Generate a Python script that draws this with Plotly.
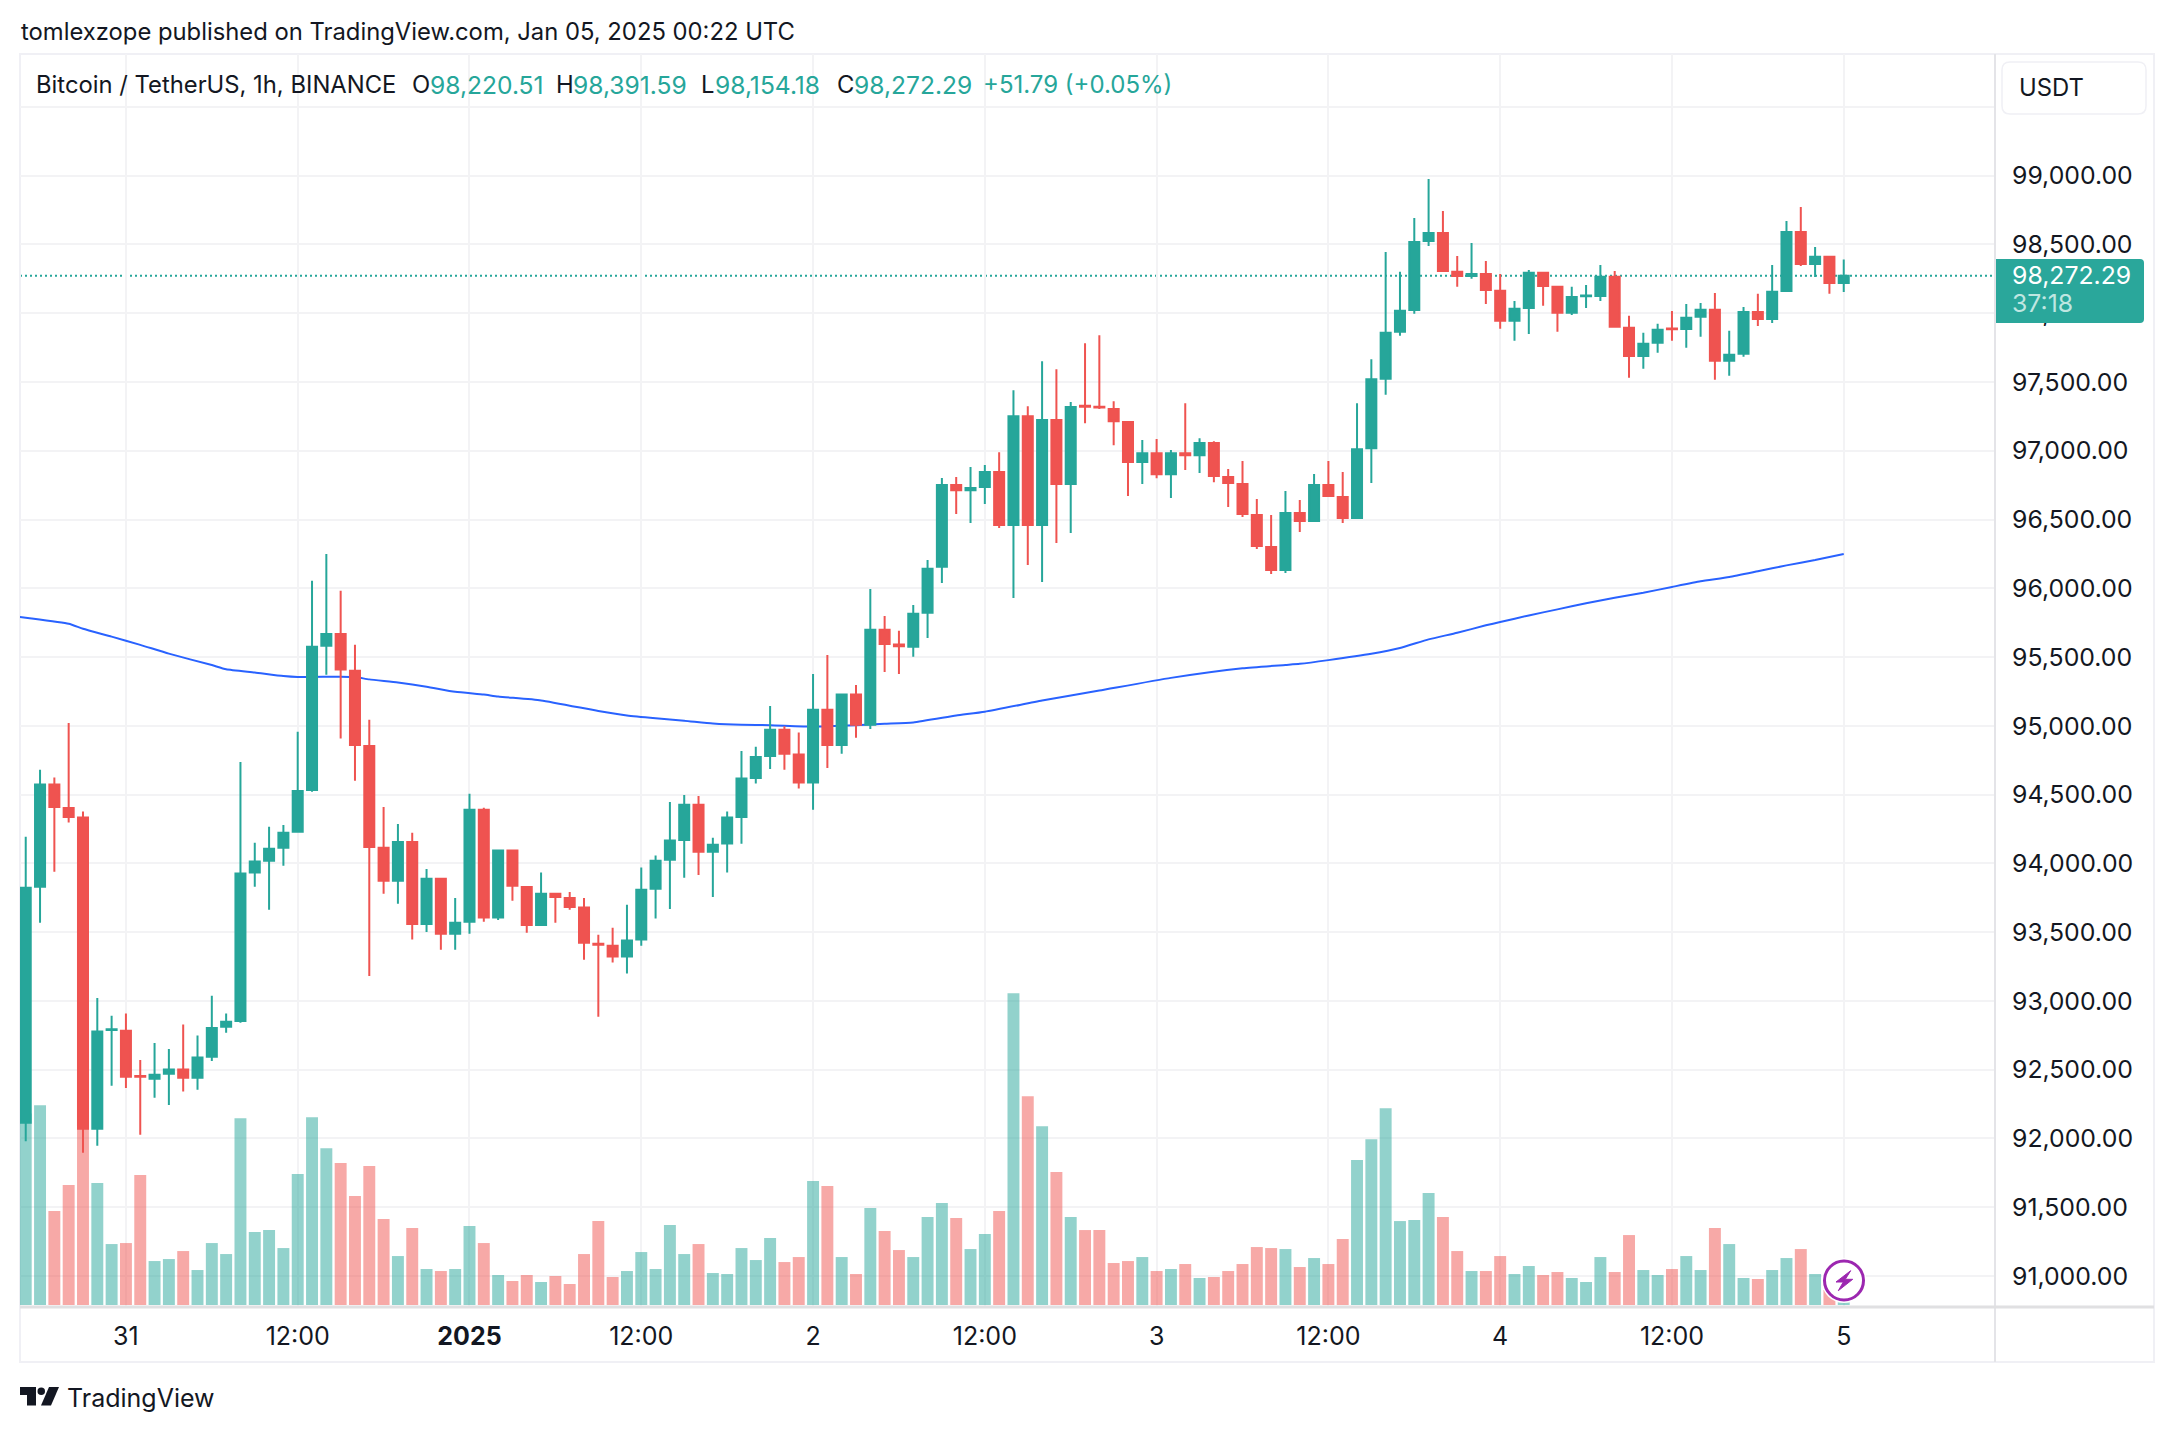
import pandas as pd
import plotly.graph_objects as go

# hourly candles
times = pd.date_range("2024-12-30 17:00", periods=128, freq="h")

opens = [92114, 93830, 94574, 94403, 94333, 92071, 92788, 92784, 92454, 92435, 92471, 92501, 92441, 92595, 92812, 92855,
         93933, 94020, 94114, 94230, 94534, 95582, 95668, 95401, 94854, 94113, 93873, 94156, 93560, 93889, 93489, 93576,
         94390, 93606, 94093, 93829, 93553, 93779, 93749, 93679, 93415, 93402, 93323, 93446, 93816, 94027, 94170, 94427,
         94084, 94144, 94337, 94621, 94781, 94971, 94791, 94588, 95118, 94861, 95228, 95008, 95699, 95592, 95576, 95823,
         96157, 96751, 96714, 96736, 96845, 96460, 97252, 96460, 97223, 96758, 97328, 97321, 97303, 97209, 96918, 96983,
         96830, 96983, 96968, 97056, 96809, 96758, 96533, 96301, 96133, 96548, 96489, 96751, 96664, 96511, 97019, 97523,
         97865, 98024, 98525, 98584, 98301, 98271, 98286, 98163, 97945, 98039, 98294, 98192, 98003, 98123, 98126, 98265,
         97894, 97690, 97785, 97890, 97886, 97974, 98025, 97654, 97705, 98010, 97959, 98162, 98591, 98358, 98410, 98220.51]
highs = [94193, 94681, 94624, 95021, 94377, 93022, 92892, 92908, 92571, 92695, 92651, 92828, 92748, 93038, 92908, 94738,
         94150, 94267, 94280, 94958, 96056, 96250, 95983, 95589, 95045, 94410, 94287, 94223, 93960, 93896, 93749, 94507,
         94404, 94100, 94100, 93836, 93933, 93786, 93793, 93749, 93482, 93532, 93699, 93970, 94057, 94447, 94497, 94490,
         94187, 94377, 94818, 94848, 95145, 94998, 94951, 95378, 95515, 95235, 95298, 95996, 95799, 95692, 95879, 96206,
         96802, 96809, 96882, 96896, 96990, 97441, 97324, 97651, 97593, 97354, 97782, 97840, 97361, 97216, 97078, 97085,
         97005, 97346, 97092, 97070, 96867, 96925, 96649, 96533, 96707, 96642, 96831, 96925, 96845, 97346, 97666, 98446,
         98301, 98693, 98976, 98743, 98417, 98511, 98380, 98286, 98090, 98315, 98301, 98199, 98192, 98206, 98351, 98308,
         97981, 97858, 97923, 98017, 98068, 98075, 98148, 97872, 98046, 98141, 98351, 98671, 98772, 98482, 98417, 98391.59]
lows = [91980, 93569, 93940, 94297, 91897, 91947, 92384, 92367, 92027, 92297, 92244, 92341, 92354, 92564, 92768, 92842,
        93830, 93663, 93983, 94223, 94521, 95372, 94908, 94601, 93182, 93780, 93706, 93446, 93502, 93372, 93372, 93489,
        93576, 93589, 93729, 93496, 93546, 93569, 93663, 93299, 92885, 93279, 93199, 93402, 93599, 93669, 93896, 93916,
        93756, 93933, 94143, 94581, 94687, 94681, 94544, 94390, 94694, 94798, 94914, 94978, 95392, 95378, 95502, 95639,
        96039, 96540, 96475, 96613, 96438, 95930, 96170, 96046, 96329, 96402, 97201, 97303, 97041, 96671, 96758, 96801,
        96656, 96860, 96838, 96772, 96591, 96518, 96286, 96104, 96112, 96409, 96482, 96664, 96475, 96504, 96765, 97408,
        97836, 97996, 98489, 98301, 98192, 98250, 98068, 97887, 97800, 97850, 98054, 97865, 97988, 98039, 98090, 97894,
        97531, 97596, 97712, 97800, 97749, 97829, 97516, 97546, 97683, 97908, 97930, 98155, 98344, 98264, 98141, 98154.18]
closes = [93823, 94574, 94411, 94337, 92071, 92778, 92794, 92448, 92448, 92464, 92501, 92441, 92588, 92804, 92848, 93926,
          94013, 94106, 94223, 94527, 95575, 95668, 95409, 94861, 94120, 93873, 94156, 93560, 93889, 93489, 93569, 94390,
          93606, 94093, 93837, 93553, 93779, 93756, 93683, 93423, 93409, 93323, 93439, 93809, 94020, 94166, 94427, 94084,
          94136, 94333, 94617, 94774, 94971, 94798, 94588, 95118, 94861, 95228, 95008, 95699, 95596, 95578, 95815, 96143,
          96751, 96714, 96729, 96845, 96460, 97252, 96460, 97223, 96758, 97318, 97321, 97314, 97215, 96918, 96983, 96830,
          96983, 96968, 97056, 96816, 96765, 96540, 96307, 96133, 96548, 96489, 96751, 96671, 96511, 97012, 97521, 97858,
          98018, 98519, 98584, 98308, 98271, 98286, 98170, 97945, 98032, 98294, 98199, 98003, 98119, 98130, 98265, 97901,
          97690, 97778, 97880, 97883, 97967, 98025, 97654, 97698, 98010, 97959, 98156, 98591, 98358, 98410, 98220, 98272.29]

# volume, no scale on the chart so these are just bar heights
volumes = [575, 600, 282, 360, 708, 366, 183, 186, 390, 132, 138, 162, 105, 186, 153, 561,
           219, 225, 171, 393, 564, 471, 426, 327, 417, 258, 147, 231, 108, 102, 108, 237,
           186, 90, 72, 90, 69, 87, 63, 153, 252, 84, 102, 159, 108, 240, 153, 183,
           96, 93, 171, 135, 201, 129, 144, 372, 357, 144, 93, 291, 222, 165, 144, 264,
           306, 261, 168, 213, 282, 936, 627, 537, 399, 264, 225, 225, 126, 132, 144, 102,
           108, 123, 81, 84, 102, 123, 174, 171, 168, 114, 141, 123, 198, 435, 498, 591,
           252, 255, 336, 264, 162, 102, 102, 147, 93, 117, 90, 99, 81, 69, 144, 99,
           210, 105, 90, 108, 147, 105, 231, 183, 81, 78, 105, 141, 168, 93, 45, 8]

# moving average, read at these candle numbers (-1 is the hour before the first candle, off the left edge)
ma_index = [-1, 0, 3, 4, 6, 8, 10, 13, 14, 16, 18, 19, 22, 23, 24, 26, 28, 30, 32, 33, 36, 40, 42, 44, 46,
            48, 50, 52, 55, 58, 60, 62, 65, 67, 71, 75, 80, 85, 88, 89, 91, 94, 96, 98, 100, 102, 103, 105,
            107, 109, 111, 113, 115, 117, 119, 121, 123, 125, 127]
ma_values = [95800, 95786, 95742, 95706, 95649, 95589, 95525, 95442, 95412, 95388, 95362, 95355, 95358, 95355, 95338,
             95315, 95285, 95248, 95228, 95213, 95185, 95108, 95075, 95055, 95038, 95018, 95008, 95005, 94995,
             95005, 95015, 95025, 95075, 95103, 95184, 95257, 95349, 95419, 95443, 95451, 95478, 95524, 95566,
             95629, 95677, 95731, 95755, 95803, 95847, 95891, 95932, 95968, 96010, 96051, 96082, 96124, 96167,
             96206, 96250]

price_ticks = [91000, 91500, 92000, 92500, 93000, 93500, 94000, 94500, 95000, 95500, 96000, 96500, 97000,
               97500, 98000, 98500, 99000, 99500]
time_ticks = ["2024-12-31 00:00", "2024-12-31 12:00", "2025-01-01 00:00", "2025-01-01 12:00", "2025-01-02 00:00",
              "2025-01-02 12:00", "2025-01-03 00:00", "2025-01-03 12:00", "2025-01-04 00:00", "2025-01-04 12:00",
              "2025-01-05 00:00"]
time_labels = ["31", "12:00", "<b>2025</b>", "12:00", "2", "12:00", "3", "12:00", "4", "12:00", "5"]
price_change = 51.79
price_change_pct = 0.05

W, H = 2174, 1432
GREEN = "#26a69a"
RED = "#ef5350"
INK = "#131722"
GRID = "#f3f3f5"
FONT = "Inter"
PRICE_RANGE = [90782, 99885]


# pixel helpers for the furniture around the chart
def px(x):
    return x / W


def py(y):
    return 1 - y / H


def label(fig, x, y, text, color=INK, size=23.8, anchor="left"):
    fig.add_annotation(x=px(x), y=py(y), xref="paper", yref="paper", text=text, showarrow=False,
                       xanchor=anchor, yanchor="middle", borderpad=0, font=dict(family=FONT, size=size, color=color))


def box_line(x0, y0, x1, y1, color, width):
    return dict(type="line", xref="paper", yref="paper", x0=px(x0), y0=py(y0), x1=px(x1), y1=py(y1),
                line=dict(color=color, width=width))


def path_shape(points, fill, line=None, width=0):
    # points are (command, x, y) in picture pixels
    d = ""
    for cmd, x, y in points:
        d += f"{cmd}{px(x)},{py(y)} "
    return dict(type="path", xref="paper", yref="paper", path=d + "Z", fillcolor=fill,
                line=dict(color=line or fill, width=width))


fig = go.Figure()

# moving average sits on the main axis so the candles cover it
ma_times = [times[0] + pd.Timedelta(hours=i) for i in ma_index]
fig.add_trace(go.Scatter(
    x=ma_times, y=ma_values, mode="lines",
    line=dict(color="#2962ff", width=2, shape="spline", smoothing=0.5), yaxis="y", hoverinfo="skip"
))

# volume underneath
vol_colors = [GREEN if c >= o else RED for o, c in zip(opens, closes)]
fig.add_trace(go.Bar(
    x=times, y=volumes, width=3000000, marker=dict(color=vol_colors, opacity=0.5, line_width=0),
    yaxis="y2", hoverinfo="skip"
))

# candles on top
fig.add_trace(go.Candlestick(
    x=times, open=opens, high=highs, low=lows, close=closes, whiskerwidth=0,
    increasing=dict(line=dict(color=GREEN, width=2), fillcolor=GREEN),
    decreasing=dict(line=dict(color=RED, width=2), fillcolor=RED),
    yaxis="y3"
))

tick_text = [f"{p:,.2f}" if p != 99500 else "" for p in price_ticks]

fig.update_layout(
    width=W, height=H, margin=dict(l=0, r=0, t=0, b=0),
    paper_bgcolor="white", plot_bgcolor="white", showlegend=False,
    boxgap=0.3, boxgroupgap=0,
    font=dict(family=FONT, color=INK),
    xaxis=dict(
        domain=[px(20), px(1995)], range=["2024-12-30 16:36", "2025-01-05 10:34"],
        rangeslider=dict(visible=False), tickmode="array", tickvals=time_ticks, ticktext=time_labels,
        tickangle=0, ticks="", ticklabelstandoff=13, tickfont=dict(size=25, color=INK),
        showgrid=True, gridcolor=GRID, gridwidth=2, showline=False, zeroline=False
    ),
    yaxis=dict(
        domain=[py(1306), py(54)], range=PRICE_RANGE, side="right",
        tickmode="array", tickvals=price_ticks, ticktext=tick_text, ticks="", ticklabelstandoff=16,
        tickfont=dict(size=24.8, color=INK), showgrid=True, gridcolor=GRID, gridwidth=2, showline=False, zeroline=False
    ),
    yaxis2=dict(overlaying="y", domain=[py(1306), py(54)], range=[-3, 3756], visible=False),
    yaxis3=dict(overlaying="y", domain=[py(1306), py(54)], range=PRICE_RANGE, visible=False),
)

shapes = [
    # last price dots
    dict(type="line", xref="paper", yref="y", x0=px(20), x1=px(1995), y0=closes[-1], y1=closes[-1], layer="below",
         line=dict(color=GREEN, width=2, dash="2px,3px")),
    # frame
    dict(type="rect", xref="paper", yref="paper", x0=px(20), y0=py(54), x1=px(2154), y1=py(1362),
         line=dict(color="#f0f0f5", width=2), layer="below"),
    box_line(1995, 54, 1995, 1362, "#e4e4e8", 2),
    box_line(20, 1307, 2154, 1307, "#e0e0e2", 3),
]

# USDT box
shapes.append(path_shape([
    ("M", 2010, 62), ("L", 2138, 62), ("Q", 2146, 62), ("", 2146, 70), ("L", 2146, 106), ("Q", 2146, 114), ("", 2138, 114),
    ("L", 2010, 114), ("Q", 2002, 114), ("", 2002, 106), ("L", 2002, 70), ("Q", 2002, 62), ("", 2010, 62)
], "white", "#f0f0f5", 1.5))

# price tag, a touch taller so only the comma of 98,000.00 shows under it
shapes.append(path_shape([
    ("M", 1996, 259), ("L", 2140, 259), ("Q", 2144, 259), ("", 2144, 263), ("L", 2144, 319), ("Q", 2144, 323), ("", 2140, 323),
    ("L", 1996, 323)
], "#2aa79b"))

# lightning badge with a white halo
shapes.append(dict(type="circle", xref="paper", yref="paper", x0=px(1821.5), y0=py(1303), x1=px(1866.5), y1=py(1258),
                   fillcolor="white", line_width=0))
shapes.append(dict(type="circle", xref="paper", yref="paper", x0=px(1824.5), y0=py(1300), x1=px(1863.5), y1=py(1261),
                   fillcolor="white", line=dict(color="#9c27b0", width=3)))
shapes.append(path_shape([("M", 1850.7, 1270.7), ("L", 1836, 1282), ("L", 1843.3, 1282), ("L", 1838.3, 1290.7),
                          ("L", 1852.7, 1279.3), ("L", 1845.3, 1279.3)], "#9c27b0", "#9c27b0", 1))

# TradingView logo
shapes.append(path_shape([("M", 20, 1387), ("L", 36, 1387), ("L", 36, 1405.5), ("L", 27, 1405.5), ("L", 27, 1395), ("L", 20, 1395)], INK))
shapes.append(path_shape([("M", 49, 1387), ("L", 59, 1387), ("L", 51, 1405.5), ("L", 41, 1405.5)], INK))
shapes.append(dict(type="circle", xref="paper", yref="paper", x0=px(37.5), y0=py(1395), x1=px(45), y1=py(1387.5),
                   fillcolor=INK, line_width=0))
fig.update_layout(shapes=shapes)

# header and legend row
label(fig, 20, 32, "tomlexzope published on TradingView.com, Jan 05, 2025 00:22 UTC")
label(fig, 35, 85, "Bitcoin / TetherUS, 1h, BINANCE")
ohlc = [("O", 411, 429, opens[-1]), ("H", 555, 572, highs[-1]), ("L", 700, 714, lows[-1]), ("C", 836, 853, closes[-1])]
for letter, x_letter, x_value, value in ohlc:
    label(fig, x_letter, 85, letter)
    label(fig, x_value, 85, f"{value:,.2f}", color=GREEN, size=24.6)
label(fig, 982, 85, f"+{price_change:.2f} (+{price_change_pct:.2f}%)", color=GREEN, size=24)

label(fig, 2018, 88, "USDT")
label(fig, 2011, 275, f"{closes[-1]:,.2f}", color="white", size=24.8)
label(fig, 2011, 303, "37:18", color="#bfe6e1", size=24.8)
label(fig, 66, 1398, "TradingView", size=25)

fig.write_html("out.html", config=dict(displayModeBar=False),
               post_script="document.body.style.margin='0';document.documentElement.style.overflow='hidden';")
